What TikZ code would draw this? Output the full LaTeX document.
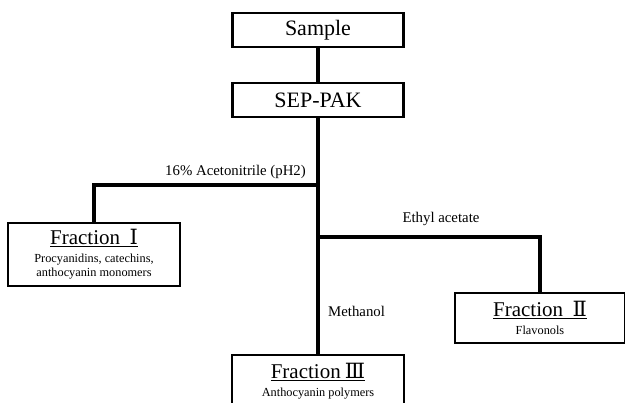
\documentclass[tikz,border=0pt]{standalone}
\usepackage{fontspec}
\setmainfont{Liberation Serif}
\newfontfamily\numfont{DejaVu Serif}
\usetikzlibrary{positioning}

\newcommand{\bigfr}{\fontsize{21}{23}\selectfont}
\newcommand{\smallfr}{\fontsize{12.3}{14.5}\selectfont}

\begin{document}
\begin{tikzpicture}[x=1pt,y=-1pt,
  stepbox/.style={draw,line width=2.2pt,minimum width=171pt,minimum height=34pt,inner sep=0pt,font=\fontsize{22}{24}\selectfont},
  fracbox/.style={draw,line width=2.2pt,minimum width=172pt,inner sep=0pt,align=center,font=\smallfr},
  link/.style={line width=3.2pt},
  lbl/.style={font=\fontsize{14.8}{16}\selectfont,inner sep=0pt}]
\useasboundingbox (0,0) rectangle (625,403);
\clip (0,0) rectangle (625,403);

\node[stepbox] (sample) at (318,30) {Sample};
\node[stepbox] (sepak) at (318,100) {SEP-PAK};

\node[fracbox,minimum height=63pt] (frac1) at (94,254.5)
  {{\bigfr\underline{Fraction\hspace{0.45em}{\numfont Ⅰ}}}\\[3pt]
   Procyanidins, catechins,\\
   anthocyanin monomers};
\node[fracbox,minimum width=170pt,minimum height=50pt] (frac2) at (540,318)
  {{\bigfr\underline{Fraction\hspace{0.45em}{\numfont Ⅱ}}}\\[3pt]
   Flavonols};
\node[fracbox,minimum height=52pt] (frac3) at (318,381)
  {{\bigfr\underline{Fraction\hspace{0.2em}{\numfont Ⅲ}}}\\[3pt]
   Anthocyanin polymers};

% branch points on the trunk
\coordinate (acj) at (318,185);
\coordinate (etj) at (318,237);

\draw[link] (sample) -- (sepak);
\draw[link] (sepak) -- (frac3);
\draw[link] (acj) -| (frac1.north);
\draw[link] (etj) -| (frac2.north);

\node[lbl,anchor=east] (acetonitrile) at (306,172) {16\% Acetonitrile (pH2)};
\node[lbl] (ethyl) at (441,219) {Ethyl acetate};
\node[lbl,anchor=west] (methanol) at (328,311) {Methanol};
\end{tikzpicture}
\end{document}
